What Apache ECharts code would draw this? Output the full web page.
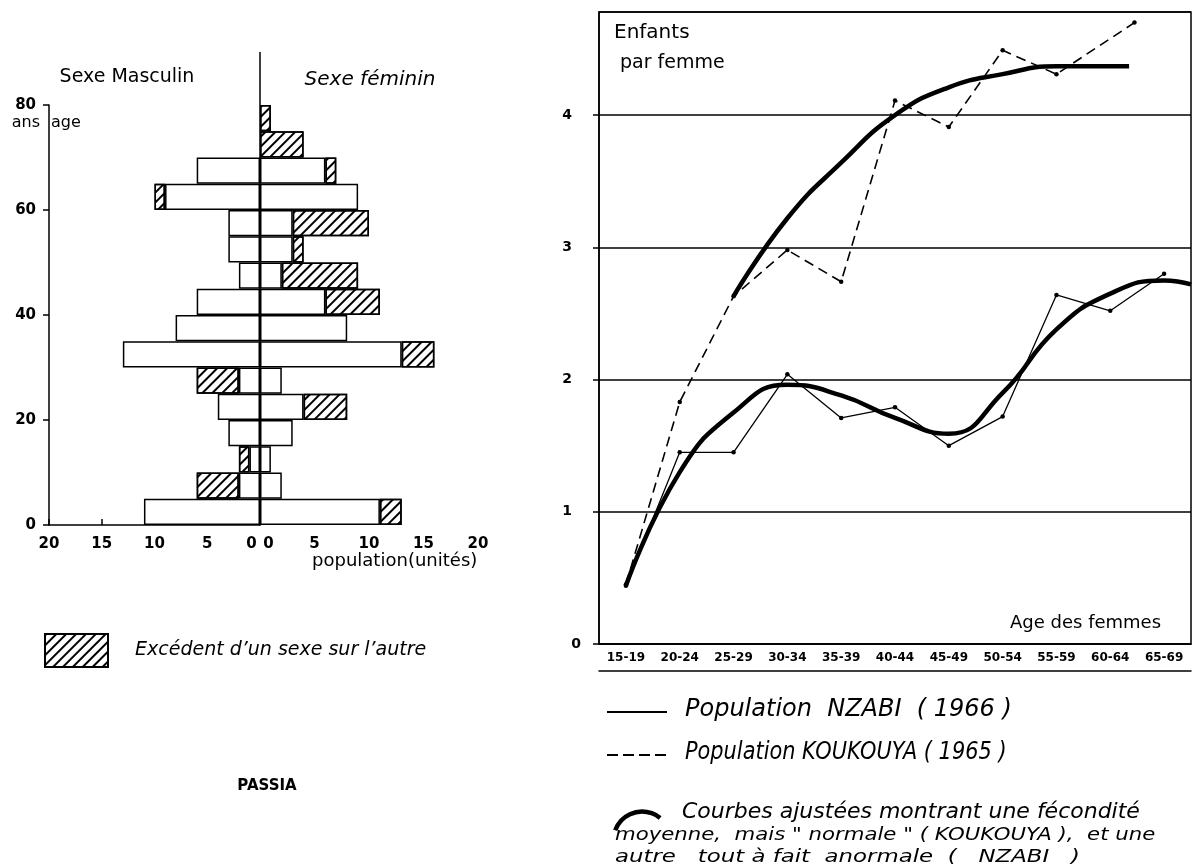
<!DOCTYPE html>
<html>
<head>
<meta charset="utf-8">
<title>PASSIA - pyramide et fécondité</title>
<script src="https://cdn.jsdelivr.net/npm/echarts@6/dist/echarts.min.js"></script>
<style>
  html, body { margin: 0; padding: 0; background: #fff; }
  #chart { width: 1192px; height: 868px; }
</style>
</head>
<body>
<div id="chart"></div>
<script>
// pyramide PASSIA : effectifs par groupe de 5 ans (0-4 en bas)
const ageGroups = ['0-4', '5-9', '10-14', '15-19', '20-24', '25-29', '30-34', '35-39',
  '40-44', '45-49', '50-54', '55-59', '60-64', '65-69', '70-74', '75-79']
// la colonne centrale monte jusqu'a 90 ans
const femaleSlots = ageGroups.concat(['80-84', '85-89'])
const males = [11, 6, 2, 3, 4, 6, 13, 8, 6, 2, 3, 3, 10, 6, 0, 0]
const females = [13, 2, 1, 3, 8, 2, 16, 8, 11, 9, 4, 10, 9, 7, 4, 1]
const popTicks = [0, 5, 10, 15, 20]
const ageTicks = [0, 20, 40, 60, 80]

// enfants par femme selon l'age des femmes
const womenAges = ['15-19', '20-24', '25-29', '30-34', '35-39', '40-44', '45-49',
  '50-54', '55-59', '60-64', '65-69']
const nzabi = [0.44, 1.45, 1.45, 2.04, 1.71, 1.79, 1.5, 1.72, 2.64, 2.52, 2.8]
const koukouyaPos = [0, 1, 2, 3, 4, 5, 6, 7, 8, 9.45]
const koukouya = [0.45, 1.83, 2.63, 2.98, 2.74, 4.11, 3.91, 4.49, 4.31, 4.7]
// courbes ajustees
const fitKoukouyaPos = [2, 3, 4, 5, 6, 7, 8, 9, 9.35]
const fitKoukouya = [2.63, 3.22, 3.64, 4.0, 4.21, 4.31, 4.37, 4.37, 4.37]
const fitNzabiPos = [0, 1, 2, 3, 4, 5, 6, 7, 8, 9, 10, 10.5]
const fitNzabi = [0.44, 1.3, 1.75, 1.96, 1.88, 1.71, 1.59, 1.9, 2.38, 2.65, 2.75, 2.72]
const fertTicks = [0, 1, 2, 3, 4]
const fertMax = 4.78

const FONT = 'DejaVu Sans'
const EXCESS = 'Excédent d\u2019un sexe sur l\u2019autre'
const blank = v => (v > 0 ? v : '-')
const common = males.map((m, i) => blank(Math.min(m, females[i])))
const maleExcess = males.map((m, i) => blank(m - females[i]))
const femaleExcess = females.map((f, i) => blank(f - males[i]))
const pairs = (xs, ys) => ys.map((y, i) => [xs[i], y])

const HATCH = {
  symbol: 'rect',
  symbolSize: 1,
  dashArrayX: [1, 0],
  dashArrayY: [1.3, 4.4],
  rotation: -Math.PI / 4,
  color: '#000'
}
const barStyle = { color: '#fff', borderColor: '#000', borderWidth: 1.5 }
const hatchStyle = { color: '#fff', borderColor: '#000', borderWidth: 1.5, decal: HATCH }
const black = { color: '#000', width: 1.5 }

const popAxis = (grid, inverse) => ({
  type: 'value',
  gridIndex: grid,
  min: popTicks[0],
  max: popTicks[popTicks.length - 1],
  interval: popTicks[1] - popTicks[0],
  inverse: inverse,
  axisLine: { lineStyle: black },
  axisTick: { inside: true, length: 6, lineStyle: black },
  splitLine: { show: false },
  axisLabel: {
    color: '#000', fontFamily: FONT, fontWeight: 'bold', fontSize: 15, margin: 12,
    formatter: v => (v === 0 ? '{z|0}' : String(v)),
    rich: {
      z: {
        fontFamily: FONT, fontWeight: 'bold', fontSize: 15, color: '#000',
        padding: inverse ? [0, 17, 0, 0] : [0, 0, 0, 17]
      }
    }
  }
})

const text = (str, x, y, style, extra) => Object.assign({
  type: 'text', x: x, y: y, silent: true,
  style: Object.assign({
    text: str, fill: '#000', fontFamily: FONT, fontSize: 18,
    textAlign: 'left', textVerticalAlign: 'middle'
  }, style)
}, extra || {})

const option = {
  animation: false,
  backgroundColor: '#fff',
  grid: [
    { left: 49, right: 932, top: 105, bottom: 343 },
    { left: 260, right: 714, top: 52.5, bottom: 343 },
    { left: 599, right: 1, top: 12, bottom: 224, show: true, borderColor: '#000', borderWidth: 1.5 }
  ],
  xAxis: [
    popAxis(0, true),
    popAxis(1, false),
    {
      type: 'category', gridIndex: 2, data: womenAges, boundaryGap: true,
      axisLine: { lineStyle: black },
      axisTick: { length: 27, lineStyle: { color: '#000', width: 1.3 } },
      axisLabel: { color: '#000', fontFamily: FONT, fontWeight: 'bold', fontSize: 12, margin: 8, interval: 0 }
    },
    { type: 'value', gridIndex: 2, min: -0.5, max: womenAges.length - 0.5, show: false },
    {
      type: 'category', gridIndex: 2, data: womenAges, position: 'bottom', offset: 27,
      axisLine: { lineStyle: black }, axisTick: { show: false }, axisLabel: { show: false }
    }
  ],
  yAxis: [
    { type: 'category', gridIndex: 0, data: ageGroups, show: false },
    {
      type: 'value', gridIndex: 0, position: 'left',
      min: ageTicks[0], max: ageTicks[ageTicks.length - 1], interval: ageTicks[1] - ageTicks[0],
      axisLine: { show: true, onZero: false, lineStyle: black },
      axisTick: { show: true, length: 6, lineStyle: black },
      splitLine: { show: false },
      axisLabel: { color: '#000', fontFamily: FONT, fontWeight: 'bold', fontSize: 15, margin: 13 }
    },
    {
      type: 'category', gridIndex: 1, data: femaleSlots,
      axisLine: { show: true, onZero: false, lineStyle: black },
      axisTick: { show: false }, axisLabel: { show: false }
    },
    {
      type: 'value', gridIndex: 2, position: 'left',
      min: fertTicks[0], max: fertMax, interval: fertTicks[1] - fertTicks[0],
      axisLine: { show: true, onZero: false, lineStyle: black },
      axisTick: { show: true, length: 6, lineStyle: black },
      splitLine: { show: true, lineStyle: black },
      axisLabel: {
        color: '#000', fontFamily: FONT, fontWeight: 'bold', fontSize: 14, margin: 18,
        showMaxLabel: false,
        formatter: v => (v > fertTicks[fertTicks.length - 1] ? '' : v === 0 ? '0' : '{n|' + v + '}'),
        rich: { n: { fontFamily: FONT, fontWeight: 'bold', fontSize: 14, color: '#000', padding: [0, 9, 0, 0] } }
      }
    }
  ],
  legend: [{
    data: [EXCESS],
    left: 39, top: 628,
    icon: 'rect', itemWidth: 63, itemHeight: 33,
    selectedMode: false,
    textStyle: { color: '#000', fontFamily: FONT, fontStyle: 'italic', fontSize: 19, padding: [0, 0, 0, 22] }
  }],
  series: [
    { type: 'bar', name: 'hommes', xAxisIndex: 0, yAxisIndex: 0, stack: 'm', barCategoryGap: '0%', data: common, itemStyle: barStyle, silent: true },
    { type: 'bar', name: EXCESS, xAxisIndex: 0, yAxisIndex: 0, stack: 'm', barCategoryGap: '0%', data: maleExcess, itemStyle: hatchStyle, silent: true },
    { type: 'bar', name: 'femmes', xAxisIndex: 1, yAxisIndex: 2, stack: 'f', barCategoryGap: '0%', data: common, itemStyle: barStyle, silent: true },
    { type: 'bar', name: EXCESS, xAxisIndex: 1, yAxisIndex: 2, stack: 'f', barCategoryGap: '0%', data: femaleExcess, itemStyle: hatchStyle, silent: true },
    {
      type: 'line', name: 'Population NZABI (1966)', xAxisIndex: 3, yAxisIndex: 3,
      data: pairs(nzabi.map((v, i) => i), nzabi),
      symbol: 'circle', symbolSize: 4.5, itemStyle: { color: '#000' },
      lineStyle: { color: '#000', width: 1.3 }, silent: true, z: 3
    },
    {
      type: 'line', name: 'Population KOUKOUYA (1965)', xAxisIndex: 3, yAxisIndex: 3,
      data: pairs(koukouyaPos, koukouya),
      symbol: 'circle', symbolSize: 4.5, itemStyle: { color: '#000' },
      lineStyle: { color: '#000', width: 1.6, type: [10, 6] }, silent: true, z: 3
    },
    {
      type: 'line', name: 'ajustement KOUKOUYA', xAxisIndex: 3, yAxisIndex: 3,
      data: pairs(fitKoukouyaPos, fitKoukouya), smooth: 0.5, symbol: 'none',
      lineStyle: { color: '#000', width: 4.5 }, silent: true, z: 4
    },
    {
      type: 'line', name: 'ajustement NZABI', xAxisIndex: 3, yAxisIndex: 3,
      data: pairs(fitNzabiPos, fitNzabi), smooth: 0.5, symbol: 'none',
      lineStyle: { color: '#000', width: 4.5 }, silent: true, z: 4
    }
  ],
  graphic: [
    text('Sexe Masculin', 127, 77, { fontSize: 19, textAlign: 'center' }),
    text('Sexe féminin', 370, 80, { fontSize: 20, fontStyle: 'italic', textAlign: 'center' }),
    text('ans', 40, 123, { fontSize: 16, textAlign: 'right' }),
    text('age', 51, 123, { fontSize: 16 }),
    text('population(unités)', 312, 562, { fontSize: 17 }, { scaleX: 1.06 }),
    text('PASSIA', 267, 786, { fontSize: 15, fontWeight: 'bold', textAlign: 'center' }),
    text('Enfants', 614, 33, { fontSize: 20 }),
    text('par femme', 620, 63, { fontSize: 19 }),
    text('Age des femmes', 1010, 623, { fontSize: 18 }),
    { type: 'line', silent: true, shape: { x1: 607, y1: 712, x2: 667, y2: 712 }, style: { stroke: '#000', lineWidth: 2 } },
    { type: 'line', silent: true, shape: { x1: 607, y1: 755, x2: 667, y2: 755 }, style: { stroke: '#000', lineWidth: 2, lineDash: [11, 5] } },
    text('Population  NZABI  ( 1966 )', 685, 710, { fontSize: 24, fontStyle: 'italic' }),
    text('Population KOUKOUYA ( 1965 )', 685, 753, { fontSize: 24, fontStyle: 'italic' }, { scaleX: 0.87 }),
    {
      type: 'arc', silent: true,
      shape: { cx: 642, cy: 840, r: 28.5, startAngle: 3.49, endAngle: 5.4, clockwise: true },
      style: { stroke: '#000', lineWidth: 4.5, fill: null }
    },
    text('Courbes ajustées montrant une fécondité', 682, 812, { fontSize: 22, fontStyle: 'italic' }),
    text('moyenne,  mais " normale " ( KOUKOUYA ),  et une', 615, 835, { fontSize: 18, fontStyle: 'italic' }, { scaleX: 1.18 }),
    text('autre   tout à fait  anormale  (   NZABI   )', 615, 857, { fontSize: 18, fontStyle: 'italic' }, { scaleX: 1.27 })
  ]
}

const chart = echarts.init(document.getElementById('chart'))
chart.setOption(option)
</script>
</body>
</html>
